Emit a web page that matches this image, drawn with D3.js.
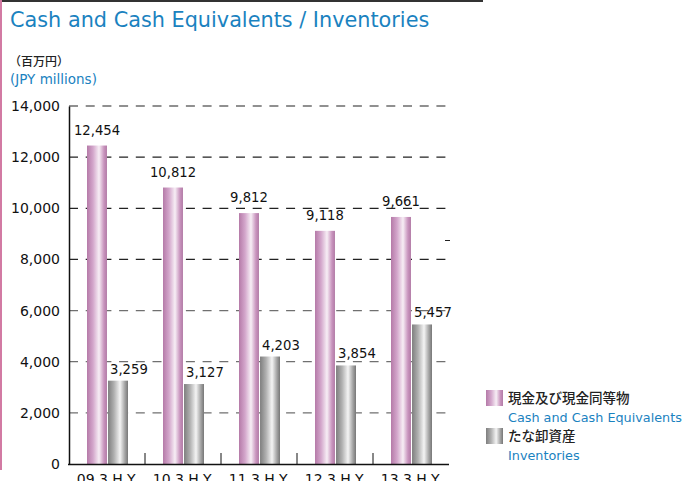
<!DOCTYPE html>
<html>
<head>
<meta charset="utf-8">
<script src="https://cdn.jsdelivr.net/npm/d3@7"></script>
<style>
    html, body { margin: 0; padding: 0; background: #fff; }
    svg { display: block; font-family: "DejaVu Sans", Verdana, sans-serif; }
</style>
</head>
<body>
<svg id="chart"></svg>
<script>
const categories = [ '09.3 H.Y.', '10.3 H.Y.', '11.3 H.Y.', '12.3 H.Y.', '13.3 H.Y.' ];
const cashValues = [ 12454, 10812, 9812, 9118, 9661 ];
const inventoryValues = [ 3259, 3127, 4203, 3854, 5457 ];
const yTicks = [ 0, 2000, 4000, 6000, 8000, 10000, 12000, 14000 ];
const seriesKeys = [ 'cash', 'inventory' ];
const legendJa = [ '現金及び現金同等物', 'たな卸資産' ];
const legendEn = [ 'Cash and Cash Equivalents', 'Inventories' ];

const W = 684, H = 481;
const blue = '#1a82bf';

const svg = d3.select( '#chart' )
    .attr( 'width', W )
    .attr( 'height', H );

// gradients for the bars (dark edge, light centre)
const defs = svg.append( 'defs' );
const grads = {
    cash: [ '#b57aa8', '#d3a6cb', '#f7eef5', '#c893bd', '#b27ba6' ],
    inventory: [ '#7e7e7e', '#b0b0b0', '#f4f4f4', '#a2a2a2', '#777777' ]
};
seriesKeys.forEach( k => {
    const g = defs.append( 'linearGradient' )
        .attr( 'id', 'grad-' + k )
        .attr( 'x1', '0%' ).attr( 'x2', '100%' )
        .attr( 'y1', '0%' ).attr( 'y2', '0%' );
    const offs = [ 0, 0.3, 0.6, 0.85, 1 ];
    grads[k].forEach( ( c, i ) => {
        g.append( 'stop' ).attr( 'offset', offs[i] ).attr( 'stop-color', c );
    });
});

// frame lines
svg.append( 'line' )
    .attr( 'x1', 0 ).attr( 'x2', 483 )
    .attr( 'y1', 1 ).attr( 'y2', 1 )
    .attr( 'stroke', '#333' ).attr( 'stroke-width', 2 );
svg.append( 'line' )
    .attr( 'x1', 1 ).attr( 'x2', 1 )
    .attr( 'y1', 0 ).attr( 'y2', 470 )
    .attr( 'stroke', '#d27aa3' ).attr( 'stroke-width', 2 );

// titles
svg.append( 'text' )
    .attr( 'x', 10 ).attr( 'y', 27 )
    .attr( 'fill', blue )
    .style( 'font-size', '20.8px' )
    .text( 'Cash and Cash Equivalents / Inventories' );

svg.append( 'text' )
    .attr( 'x', 9 ).attr( 'y', 66 )
    .attr( 'fill', '#222' )
    .style( 'font-family', '"Noto Sans CJK JP", sans-serif' )
    .style( 'font-size', '12px' )
    .style( 'font-weight', '500' )
    .text( '（百万円）' );

svg.append( 'text' )
    .attr( 'x', 10 ).attr( 'y', 84 )
    .attr( 'fill', blue )
    .style( 'font-size', '13.5px' )
    .text( '(JPY millions)' );

// scales
const yscale = d3.scaleLinear()
    .domain( [ 0, 14000 ] )
    .range( [ 464, 106 ] );

const x0 = d3.scaleBand()
    .domain( categories )
    .range( [ 69, 449 ] );

const x1 = d3.scaleBand()
    .domain( seriesKeys )
    .range( [ 18, 59 ] )
    .paddingInner( 0.05 );

const rows = categories.map( ( c, i ) => ( { cat: c, cash: cashValues[i], inventory: inventoryValues[i] } ) );

// grid lines
svg.append( 'g' )
    .selectAll( 'line' )
    .data( yTicks.filter( t => t > 0 ) )
    .join( 'line' )
    .attr( 'x1', 69 ).attr( 'x2', 446 )
    .attr( 'y1', d => yscale( d ) ).attr( 'y2', d => yscale( d ) )
    .attr( 'stroke', d => d >= 8000 ? '#222' : '#707070' )
    .attr( 'stroke-width', 1.2 )
    .attr( 'stroke-dasharray', '9,7.7' );

// stray tick mark on the right
svg.append( 'line' )
    .attr( 'x1', 445 ).attr( 'x2', 450 )
    .attr( 'y1', 240.5 ).attr( 'y2', 240.5 )
    .attr( 'stroke', '#222' );

// bars
const groups = svg.append( 'g' )
    .selectAll( 'g' )
    .data( rows )
    .join( 'g' )
    .attr( 'transform', d => `translate(${x0( d.cat )},0)` );

groups.selectAll( 'rect' )
    .data( d => seriesKeys.map( k => ( { key: k, value: d[k] } ) ) )
    .join( 'rect' )
    .attr( 'x', d => x1( d.key ) )
    .attr( 'y', d => yscale( d.value ) )
    .attr( 'width', x1.bandwidth() )
    .attr( 'height', d => yscale( 0 ) - yscale( d.value ) )
    .attr( 'fill', d => `url(#grad-${d.key})` );

groups.selectAll( 'text' )
    .data( d => seriesKeys.map( k => ( { key: k, value: d[k] } ) ) )
    .join( 'text' )
    .attr( 'x', d => d.key == 'cash' ? x1( d.key ) + x1.bandwidth() / 2 : x1( d.key ) + 2 )
    .attr( 'y', d => yscale( d.value ) - ( d.key == 'cash' ? 11 : 7 ) )
    .attr( 'text-anchor', d => d.key == 'cash' ? 'middle' : 'start' )
    .attr( 'fill', '#111' )
    .style( 'font-size', '13.2px' )
    .text( d => d3.format( ',' )( d.value ) );

// y axis
const yaxis = d3.axisLeft( yscale )
    .tickValues( yTicks )
    .tickSize( 0 )
    .tickPadding( 9 )
    .tickFormat( d3.format( ',' ) );

const yg = svg.append( 'g' )
    .attr( 'transform', 'translate(69,0)' )
    .call( yaxis );
yg.select( '.domain' ).attr( 'stroke', '#111' ).attr( 'stroke-width', 1.5 );
yg.selectAll( 'text' )
    .attr( 'fill', '#111' )
    .style( 'font-family', '"DejaVu Sans", Verdana, sans-serif' )
    .style( 'font-size', '14px' );

// x axis
svg.append( 'line' )
    .attr( 'x1', 68 ).attr( 'x2', 449 )
    .attr( 'y1', 464.5 ).attr( 'y2', 464.5 )
    .attr( 'stroke', '#111' ).attr( 'stroke-width', 1.5 );

svg.append( 'g' )
    .selectAll( 'line' )
    .data( categories.slice( 1 ) )
    .join( 'line' )
    .attr( 'x1', d => x0( d ) ).attr( 'x2', d => x0( d ) )
    .attr( 'y1', 453 ).attr( 'y2', 464 )
    .attr( 'stroke', '#111' );

svg.append( 'g' )
    .selectAll( 'text' )
    .data( categories )
    .join( 'text' )
    .attr( 'x', d => x0( d ) + x0.bandwidth() / 2 )
    .attr( 'y', 484 )
    .attr( 'text-anchor', 'middle' )
    .attr( 'fill', '#111' )
    .style( 'font-size', '14px' )
    .text( d => d );

// legend
const legend = svg.append( 'g' )
    .selectAll( 'g' )
    .data( seriesKeys )
    .join( 'g' )
    .attr( 'transform', ( d, i ) => `translate(486,${390 + i * 38})` );

legend.append( 'rect' )
    .attr( 'width', 17 ).attr( 'height', 16 )
    .attr( 'fill', d => `url(#grad-${d})` );

legend.append( 'text' )
    .attr( 'x', 22 ).attr( 'y', 13 )
    .attr( 'fill', '#222' )
    .style( 'font-family', '"Noto Sans CJK JP", sans-serif' )
    .style( 'font-size', '13.5px' )
    .style( 'font-weight', '500' )
    .text( ( d, i ) => legendJa[i] );

legend.append( 'text' )
    .attr( 'x', 22 ).attr( 'y', 32 )
    .attr( 'fill', blue )
    .style( 'font-size', '12.8px' )
    .text( ( d, i ) => legendEn[i] );
</script>
</body>
</html>
